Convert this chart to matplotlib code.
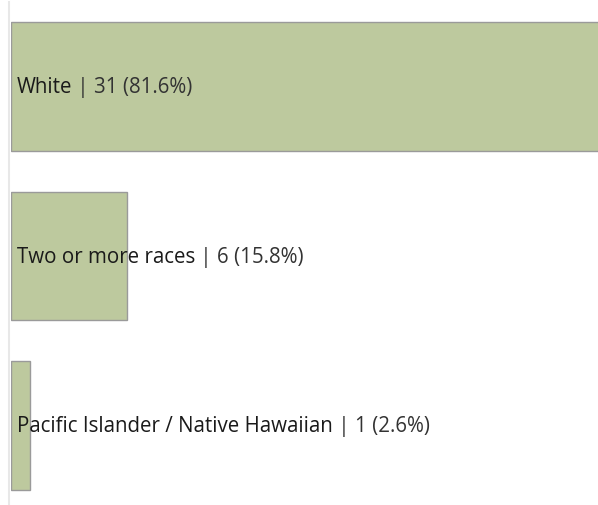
import numpy as np
import matplotlib
matplotlib.use("Agg")
import matplotlib.pyplot as plt

races = ["White", "Two or more races", "Pacific Islander / Native Hawaiian"]
counts = [31, 6, 1]
shares = [81.6, 15.8, 2.6]

bar_col = "#bdc99e"
edge_col = "#9a9a9a"

fig = plt.figure(figsize=(5.98, 5.06), dpi=100)
ax = fig.add_axes([11 / 598, 0, 1 - 11 / 598, 1 - 3 / 506])

ypos = np.arange(len(races))
ax.barh(ypos, counts, height=0.76, color=bar_col, edgecolor=edge_col, linewidth=1.0)

ax.set_xlim(0, 30.37)
ax.set_ylim(2.47, -0.50)
ax.set_xticks([])
ax.set_yticks([])
for s in ["top", "right", "bottom"]:
    ax.spines[s].set_visible(False)
ax.spines["left"].set_color("#e8e8e8")
ax.spines["left"].set_linewidth(1.5)
ax.spines["left"].set_position(("outward", 1.5))

for i, (name, n, p) in enumerate(zip(races, counts, shares)):
    t = ax.text(0.3, i, name, fontsize=14.8, family="Open Sans", fontweight="medium",
                color="#1a1a1a", va="center", ha="left")
    ax.annotate(f" | {n} ({p}%)", xy=(1, 0.5), xycoords=t, va="center", ha="left",
                fontsize=14.8, family="Open Sans", color="#333333")

fig.savefig("out.png", dpi=100)
